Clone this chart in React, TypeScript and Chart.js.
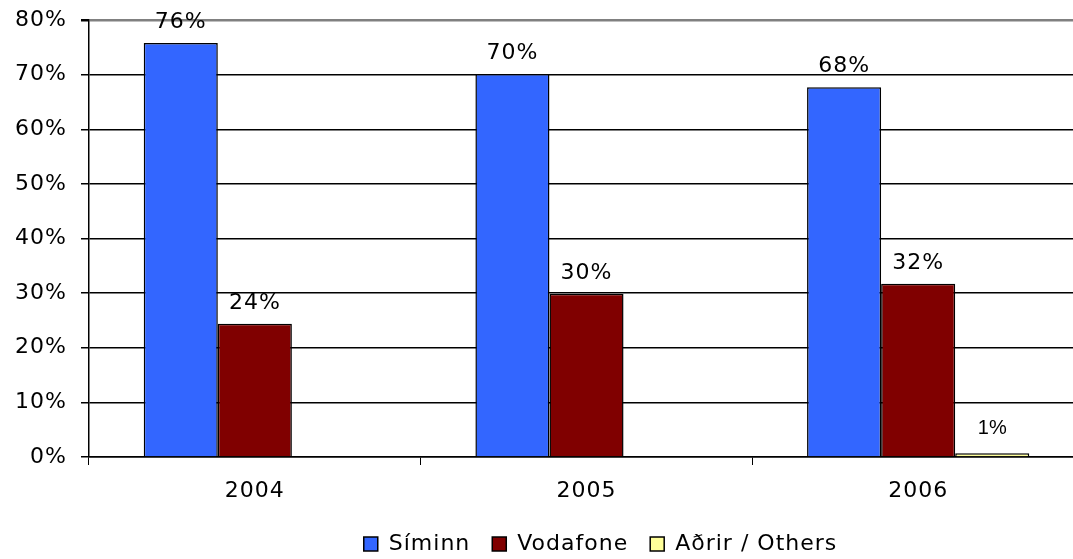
import React, { useEffect, useRef } from "react";
import { Chart, registerables } from "chart.js";

Chart.register(...registerables);

const categories = ["2004", "2005", "2006"];
const siminn = [75.8, 70.1, 67.7];
const vodafone = [24.4, 29.9, 31.7];
const others = [null, null, 0.7];
const seriesNames = ["Síminn", "Vodafone", "Aðrir / Others"];
const yTicks = [0, 10, 20, 30, 40, 50, 60, 70, 80];

const spacingPlugin = {
  id: "spacing",
  beforeInit(chart: any) {
    chart.ctx.letterSpacing = "1px";
  },
  beforeDraw(chart: any) {
    chart.ctx.letterSpacing = "1px";
  },
};

const labelPlugin = {
  id: "barLabels",
  afterDatasetsDraw(chart: any) {
    const ctx = chart.ctx;
    ctx.save();
    ctx.fillStyle = "#000";
    ctx.textAlign = "center";
    ctx.textBaseline = "alphabetic";
    chart.data.datasets.forEach((ds: any, di: number) => {
      const meta = chart.getDatasetMeta(di);
      meta.data.forEach((bar: any, i: number) => {
        const v = ds.data[i];
        if (v == null) return;
        if (di === 2) {
          ctx.letterSpacing = "0px";
          ctx.font = "20px 'Liberation Sans', Arial, sans-serif";
          ctx.fillText(Math.round(v) + "%", bar.x, bar.y - 19);
        } else {
          ctx.letterSpacing = "1px";
          ctx.font = "22px 'DejaVu Sans', Verdana, sans-serif";
          ctx.fillText(Math.round(v) + "%", bar.x, bar.y - 15);
        }
      });
    });
    ctx.restore();
  },
};

export default function App() {
  const ref = useRef<HTMLCanvasElement>(null);
  useEffect(() => {
    if (!ref.current) return;
    const font = { family: "'DejaVu Sans', Verdana, sans-serif", size: 22 };
    const chart = new Chart(ref.current, {
      type: "bar",
      data: {
        labels: categories,
        datasets: [
          { label: seriesNames[0], data: siminn, backgroundColor: "#3366FF", borderColor: "#000", borderWidth: 1.5 },
          { label: seriesNames[1], data: vodafone, backgroundColor: "#800000", borderColor: "#000", borderWidth: 1.5 },
          { label: seriesNames[2], data: others as any, backgroundColor: "#FFFF99", borderColor: "#000", borderWidth: 1.5 },
        ],
      },
      options: {
        animation: false,
        responsive: true,
        maintainAspectRatio: false,
        layout: { padding: { top: 20, left: 0, right: 0, bottom: 0 } },
        datasets: { bar: { categoryPercentage: 0.67, barPercentage: 1.0 } },
        plugins: {
          tooltip: { enabled: false },
          legend: {
            position: "bottom",
            fullSize: false,
            labels: {
              font,
              color: "#000",
              boxWidth: 14,
              boxHeight: 14,
              padding: 22,
              useBorderRadius: false,
            },
          },
        },
        scales: {
          x: {
            grid: {
              offset: true,
              drawOnChartArea: false,
              drawTicks: true,
              tickLength: 8,
              color: "#000",
            },
            border: { color: "#000", width: 1.5 },
            ticks: { font, color: "#000", padding: 13 },
            afterFit: (s: any) => { s.height = 54; },
          },
          y: {
            min: 0,
            max: 80,
            afterBuildTicks: (s: any) => { s.ticks = yTicks.map((v) => ({ value: v })); },
            grid: {
              color: (c: any) => (c.tick && c.tick.value === 80 ? "#808080" : "#000"),
              lineWidth: (c: any) => (c.tick && c.tick.value === 80 ? 2.5 : 1.5),
              tickLength: 8,
              tickColor: "#000",
            },
            border: { color: "#000", width: 1.5 },
            ticks: { font, color: "#000", padding: 14, callback: (v: any) => v + "%" },
            afterFit: (s: any) => {
              s.width = 89;
              s.paddingTop = 0;
              s.paddingBottom = 0;
            },
          },
        },
      },
      plugins: [spacingPlugin, labelPlugin],
    });
    return () => chart.destroy();
  }, []);
  return (
    <div style={{ position: "fixed", left: 0, top: 0, width: 1073, height: 559, overflow: "hidden", background: "#fff" }}>
      <div style={{ position: "absolute", left: 0, top: 0, width: 1084, height: 565 }}>
        <canvas ref={ref} />
      </div>
    </div>
  );
}
